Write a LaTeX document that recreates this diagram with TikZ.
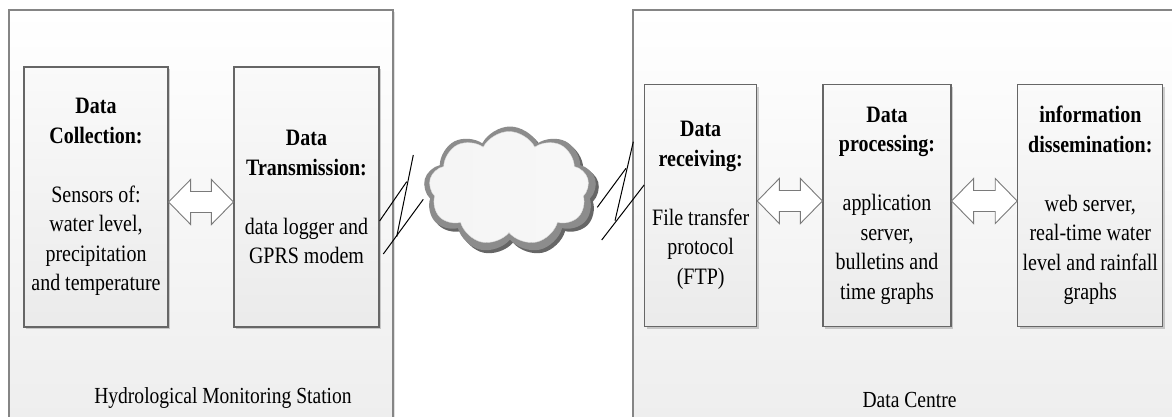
\documentclass[tikz,border=0pt]{standalone}
\usepackage{fontspec}
\setmainfont{Liberation Serif}[FakeStretch=0.85]
\usetikzlibrary{shapes.symbols,shadows,calc}

\definecolor{frameline}{HTML}{858585}
\definecolor{boxline}{HTML}{666666}
\definecolor{arrowline}{HTML}{7A7A7A}

\tikzset{
  station/.style={draw=frameline, line width=1.1pt, top color=white, bottom color=black!7,
    inner sep=0pt,
    drop shadow={shadow xshift=1.5pt, shadow yshift=-1.5pt, fill=black, opacity=0.12}},
  stage/.style={draw=boxline, line width=1.2pt, top color=black!2, bottom color=black!8,
    inner sep=0pt, align=center, text=black, font=\fontsize{23.5}{29.5}\selectfont,
    drop shadow={shadow xshift=2pt, shadow yshift=-2pt, fill=black, opacity=0.18}},
  caption/.style={inner sep=0pt, font=\fontsize{23}{26}\selectfont},
  blockarrow/.style={draw=arrowline, fill=white, line width=0.9pt, line join=miter},
  link/.style={draw=black, line width=1pt},
  puffs/.style={cloud, cloud puffs=9, cloud puff arc=125, inner sep=0pt}
}

% two-headed block arrow between two tip points
\newcommand\biarrow[2]{%
  \draw[blockarrow] (#1) -- ++(22,-22.5) -- ++(0,12) -- ($(#2)+(-22,-10.5)$) -- ++(0,-12)
    -- (#2) -- ++(-22,22.5) -- ++(0,-12) -- ($(#1)+(22,10.5)$) -- ++(0,12) -- cycle;}

\begin{document}
\begin{tikzpicture}[x=1pt,y=-1pt]
\useasboundingbox (0,0) rectangle (1172,416);
\clip (0,0) rectangle (1172,416);
\fill[white] (0,0) rectangle (1172,416);

% outer frames
\node[station, minimum width=384pt, minimum height=430pt] (hms) at (201,225) {};
\node[station, minimum width=562pt, minimum height=430pt] (centre) at (914,225) {};
\node[caption] (hmslabel) at (223,398) {Hydrological Monitoring Station};
\node[caption] (centrelabel) at (909.5,400) {Data Centre};

% station stages
\node[stage, minimum width=144pt, minimum height=260pt] (dc) at (96,197)
  {\textbf{Data}\\\textbf{Collection:}\\[29.5pt]Sensors of:\\water level,\\precipitation\\and temperature};
\node[stage, minimum width=145pt, minimum height=260pt] (dt) at (306.5,197)
  {\textbf{Data}\\\textbf{Transmission:}\\[29.5pt]data logger and\\GPRS modem};

% centre stages
\node[stage, minimum width=112pt, minimum height=242pt] (dr) at (700.7,205.5)
  {\textbf{Data}\\\textbf{receiving:}\\[29.5pt]File transfer\\protocol\\(FTP)};
\node[stage, minimum width=128pt, minimum height=242pt] (dp) at (887,205.5)
  {\textbf{Data}\\\textbf{processing:}\\[29.5pt]application\\server,\\bulletins and\\time graphs};
\node[stage, minimum width=145pt, minimum height=242pt] (di) at (1090.3,205.5)
  {\textbf{information}\\\textbf{dissemination:}\\[29.5pt]web server,\\real-time water\\level and rainfall\\graphs};

% block arrows
\coordinate (a1s) at (dc.east |- 0,202);
\coordinate (a1e) at (dt.west |- 0,202);
\coordinate (a2s) at (dr.east |- 0,201);
\coordinate (a2e) at (dp.west |- 0,201);
\coordinate (a3s) at (dp.east |- 0,201);
\coordinate (a3e) at (di.west |- 0,201);
\biarrow{a1s}{a1e}
\biarrow{a2s}{a2e}
\biarrow{a3s}{a3e}

% network cloud: dark rim, lighter rim, near-white face
\node[puffs, fill=black!60, minimum width=173pt, minimum height=127pt] (netshadow) at (513,193) {};
\node[puffs, fill=black!45, minimum width=173pt, minimum height=127pt] (net) at (510,190) {};
\node[puffs, left color=black!4, middle color=white, right color=black!3, draw=black!15,
  line width=0.4pt, minimum width=160pt, minimum height=114pt] (netface) at (509,188.5) {};

% radio links
\coordinate (lA) at (dt.east |- 0,221);
\coordinate (lB) at (406.7,181.7);
\coordinate (lC) at (413.3,155);
\coordinate (lD) at (396.7,236.7);
\coordinate (lE) at (383.3,254);
\coordinate (lF) at (423.3,199.3);
\draw[link] (lA) -- (lB);
\draw[link] (lC) -- (lD);
\draw[link] (lE) -- (lF);

\coordinate (rA) at (597.3,207.3);
\coordinate (rB) at (626,168.3);
\coordinate (rC) at (633.3,141.7);
\coordinate (rD) at (615,220.7);
\coordinate (rE) at (601.7,240);
\coordinate (rF) at (dr.west |- 0,185);
\draw[link] (rA) -- (rB);
\draw[link] (rC) -- (rD);
\draw[link] (rE) -- (rF);
\end{tikzpicture}
\end{document}
